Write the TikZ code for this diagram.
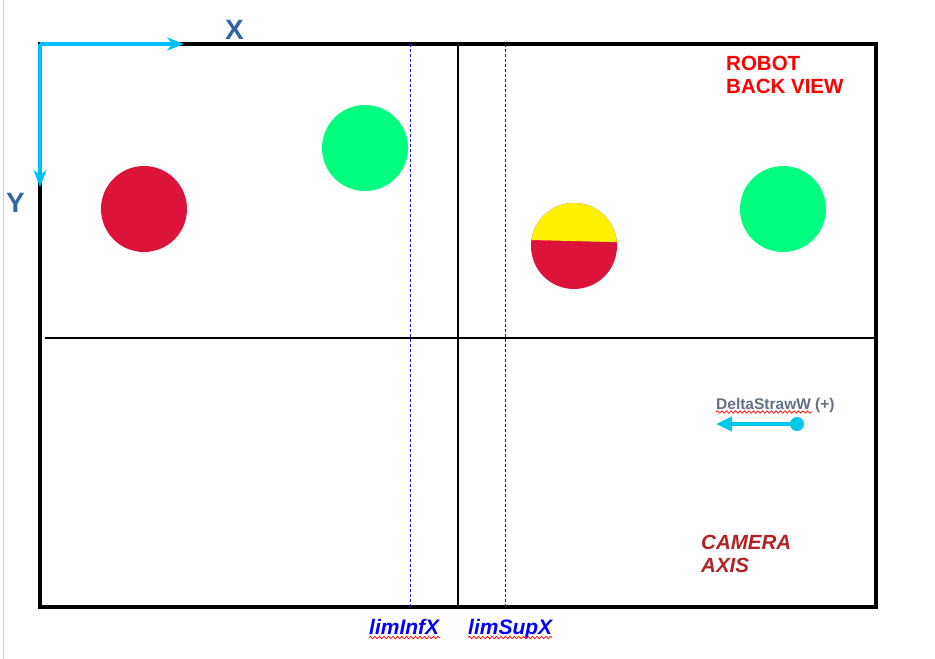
\documentclass[tikz,border=0pt]{standalone}
\usepackage{fontspec}
\setmainfont{Liberation Sans}
\usetikzlibrary{arrows.meta,decorations.pathmorphing}
\definecolor{axcyan}{RGB}{0,191,255}
\definecolor{dcyan}{RGB}{0,200,232}
\definecolor{lblblue}{RGB}{52,101,164}
\definecolor{crim}{RGB}{220,20,60}
\definecolor{sgreen}{RGB}{0,255,127}
\definecolor{fbrick}{RGB}{178,34,34}
\definecolor{dgray}{RGB}{100,112,132}
\definecolor{limblue}{RGB}{0,0,255}
\definecolor{dashblue}{RGB}{20,20,210}
\tikzset{
  frame/.style={line width=4pt, line cap=rect},
  midline/.style={line width=2pt},
  limline/.style={draw=dashblue, line width=1.2pt, dash pattern=on 3pt off 2pt},
  axis/.style={draw=axcyan, line width=4pt, -{Stealth[length=17pt,width=13pt]}},
  ball/.style={circle, minimum size=86pt, inner sep=0pt, draw=none},
  txt/.style={anchor=base west, inner sep=0pt, font=\bfseries},
  squig/.style={draw=red, line width=0.7pt, decorate, decoration={snake, amplitude=1.2pt, segment length=4.5pt}}
}
\begin{document}
\begin{tikzpicture}[x=1pt,y=-1pt]
\useasboundingbox[fill=white] (0,0) rectangle (935,659);
\draw[gray!40, line width=1pt] (3.5,0) -- (3.5,659);
% frame
\coordinate (tl) at (40,44);
\coordinate (tr) at (876,44);
\coordinate (bl) at (40,607);
\coordinate (br) at (876,607);
\draw[frame] (tl) -- (tr) -- (br) -- (bl) -- cycle;
% cross lines
\coordinate (ml) at (45,338);
\coordinate (mr) at (876,338);
\coordinate (mt) at (458,44);
\coordinate (mb) at (458,607);
\draw[midline] (ml) -- (mr);
\draw[midline] (mt) -- (mb);
% limit lines
\coordinate (lit) at (410.5,44);
\coordinate (lib) at (410.5,607);
\coordinate (lst) at (505.5,44);
\coordinate (lsb) at (505.5,607);
\draw[limline] (lit) -- (lib);
\draw[limline] (lst) -- (lsb);
% axes
\coordinate (xend) at (184,44);
\coordinate (yend) at (40,187);
\draw[axis] (tl) -- (xend);
\draw[axis] (tl) -- (yend);
\node[txt, text=lblblue, font=\bfseries\fontsize{28}{30}\selectfont] (xl) at (225,39) {X};
\node[txt, text=lblblue, font=\bfseries\fontsize{28}{30}\selectfont] (yl) at (6,212) {Y};
% balls
\node[ball, fill=crim] (red1) at (144,209) {};
\node[ball, fill=sgreen] (green1) at (365,148) {};
\node[ball, fill=sgreen] (green2) at (783,209) {};
\node[ball, fill=crim] (mixed) at (574,246) {};
\begin{scope}
  \clip (574,246) circle (43pt);
  \fill[yellow] (520,190) -- (630,190) -- (630,242.5) -- (520,239.7) -- cycle;
\end{scope}
% texts
\node[txt, text=red, font=\bfseries\fontsize{20.5}{23}\selectfont] (robot) at (726,70) {ROBOT};
\node[txt, text=red, font=\bfseries\fontsize{20.5}{23}\selectfont] (backview) at (726,93) {BACK VIEW};
\node[txt, text=fbrick, font=\bfseries\itshape\fontsize{20.5}{23}\selectfont] (camera) at (701,549) {CAMERA};
\node[txt, text=fbrick, font=\bfseries\itshape\fontsize{20.5}{23}\selectfont] (axisl) at (701,572) {AXIS};
\node[txt, text=limblue, font=\bfseries\itshape\fontsize{21}{23}\selectfont] (liminf) at (369,634) {limInfX};
\node[txt, text=limblue, font=\bfseries\itshape\fontsize{21}{23}\selectfont] (limsup) at (468,634) {limSupX};
\node[txt, text=dgray, font=\bfseries\fontsize{15.5}{18}\selectfont] (delta) at (716,409) {DeltaStrawW (+)};
% spell squiggles
\draw[squig] (liminf.base west) ++(0,3.5) -- ++(71,0);
\draw[squig] (limsup.base west) ++(0,3.5) -- ++(84,0);
\draw[squig] (delta.base west) ++(0,3) -- ++(96,0);
% delta arrow
\coordinate (dstart) at (797,424);
\coordinate (dend) at (716,424);
\fill[dcyan] (dstart) circle (7pt);
\draw[dcyan, line width=4pt, -{Stealth[length=16pt,width=14pt,inset=0pt]}] (dstart) -- (dend);
\end{tikzpicture}
\end{document}
